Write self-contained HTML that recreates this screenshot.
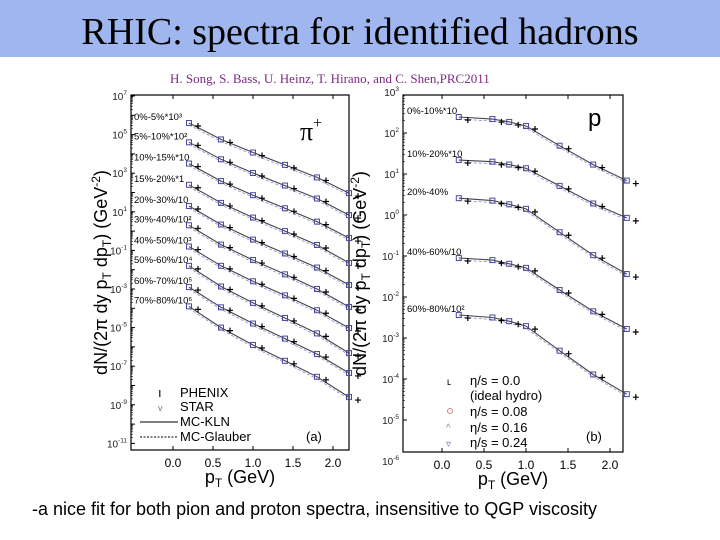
<!DOCTYPE html>
<html><head><meta charset="utf-8"><style>
body{margin:0;background:#fff;}
svg{display:block;}
</style></head><body>
<svg id="s" width="720" height="540" viewBox="0 0 720 540" xmlns="http://www.w3.org/2000/svg">
<rect x="0" y="0" width="720" height="57" fill="#9fb6ef"/>
<text x="360" y="44" text-anchor="middle" font-family="Liberation Serif, serif" font-size="38" fill="#000">RHIC: spectra for identified hadrons</text>
<text x="170" y="83" font-family="Liberation Serif, serif" font-size="13" fill="#7a2a80">H. Song, S. Bass, U. Heinz, T. Hirano, and  C. Shen,PRC2011</text>
<g id="pionPanel"></g>
<g id="protonPanel"></g>
<text x="32" y="515" font-family="Liberation Sans, sans-serif" font-size="18" fill="#000">-a nice fit for both pion and proton spectra, insensitive to QGP viscosity</text>
</svg>
<script>
// ---- pion data (log10 of yield) ----
const pionPt = [0.2, 0.6, 1.0, 1.4, 1.8, 2.2];
const pionLabels = ["0%-5%*10³","5%-10%*10²","10%-15%*10","15%-20%*1","20%-30%/10","30%-40%/10²","40%-50%/10³","50%-60%/10⁴","60%-70%/10⁵","70%-80%/10⁶"];
const pion0 = [5.6, 4.75, 4.07, 3.43, 2.78, 1.97];
const pion1 = [4.6, 3.72, 3.01, 2.36, 1.69, 0.83];
const pion2 = [3.5, 2.59, 1.86, 1.18, 0.49, -0.36];
const pion3 = [2.4, 1.46, 0.70, 0.0, -0.72, -1.65];
const pion4 = [1.3, 0.34, -0.44, -1.16, -1.89, -2.79];
const pion5 = [0.3, -0.70, -1.50, -2.24, -3.0, -3.93];
const pion6 = [-0.8, -1.80, -2.60, -3.33, -4.1, -5.02];
const pion7 = [-1.8, -2.87, -3.72, -4.5, -5.3, -6.32];
const pion8 = [-2.9, -3.95, -4.79, -5.57, -6.37, -7.35];
const pion9 = [-3.9, -5.0, -5.9, -6.72, -7.55, -8.6];
const pionSeries = [pion0,pion1,pion2,pion3,pion4,pion5,pion6,pion7,pion8,pion9];
const pionYTicks = [7,5,3,1,-1,-3,-5,-7,-9,-11];
const xTicks = [0.0,0.5,1.0,1.5,2.0];
// ---- proton data ----
const protonPt = [0.2, 0.6, 0.8, 1.0, 1.4, 1.8, 2.2];
const protonLabels = ["0%-10%*10","10%-20%*10","20%-40%","40%-60%/10","60%-80%/10²"];
const proton0 = [2.39, 2.34, 2.27, 2.17, 1.69, 1.23, 0.84];
const proton1 = [1.34, 1.30, 1.23, 1.14, 0.71, 0.28, -0.07];
const proton2 = [0.41, 0.35, 0.26, 0.15, -0.42, -0.98, -1.44];
const proton3 = [-1.05, -1.10, -1.19, -1.29, -1.83, -2.35, -2.78];
const proton4 = [-2.44, -2.50, -2.59, -2.71, -3.31, -3.89, -4.37];
const protonSeries = [proton0,proton1,proton2,proton3,proton4];
const protonYTicks = [3,2,1,0,-1,-2,-3,-4,-5,-6];

const NS="http://www.w3.org/2000/svg";
function mk(tag, attrs, parent){const e=document.createElementNS(NS,tag);for(const k in attrs)e.setAttribute(k,attrs[k]);parent.appendChild(e);return e;}
function sup(parent,x,y,base,exp,size,anchor){
  const t=mk('text',{x:x,y:y,'font-family':'Liberation Sans, sans-serif','font-size':size,'text-anchor':anchor||'end',fill:'#222'},parent);
  
  
  const a=document.createElementNS(NS,'tspan');a.textContent=base;t.appendChild(a);
  const b=document.createElementNS(NS,'tspan');b.setAttribute('dy','-5');b.setAttribute('font-size',size*0.65);b.textContent=exp;t.appendChild(b);
}
function panel(g, cfg){
  const X=v=>cfg.x0+(v-cfg.xmin)*cfg.xs;
  const Y=v=>cfg.ytop+(cfg.ymax-v)*cfg.ys;
  const f=mk('rect',{x:cfg.L,y:cfg.T,width:cfg.R-cfg.L,height:cfg.B-cfg.T,fill:'none',stroke:'#000','stroke-width':1.2},g);
  
  
  xTicks.forEach(v=>{
    const x=X(v);
    mk('line',{x1:x,x2:x,y1:cfg.B,y2:cfg.B-4,stroke:'#000'},g);
    mk('line',{x1:x,x2:x,y1:cfg.T,y2:cfg.T+4,stroke:'#000'},g);
    const t=mk('text',{x:x,y:cfg.B+17,'text-anchor':'middle','font-family':'Liberation Sans, sans-serif','font-size':12,fill:'#000'},g);
    t.textContent=v.toFixed(1);
    
    
  });
  for(let d=Math.floor(cfg.ymin);d<=cfg.ymax;d++){
    const y=Y(d); if(y<cfg.T-1||y>cfg.B+1)continue;
    mk('line',{x1:cfg.L,x2:cfg.L+4,y1:y,y2:y,stroke:'#000'},g);
    for(let m=2;m<10;m++){const ym=Y(d+Math.log10(m));if(ym>cfg.T&&ym<cfg.B)mk('line',{x1:cfg.L,x2:cfg.L+2,y1:ym,y2:ym,stroke:'#000','stroke-width':0.6},g);}
  }
  cfg.yticks.forEach(d=>{sup(g,cfg.L-4,Y(d)+4,'10',String(d),10);});
  const ax=mk('text',{x:(cfg.L+cfg.R)/2,y:cfg.B+33,'text-anchor':'middle','font-family':'Liberation Sans, sans-serif','font-size':18,fill:'#000'},g);
  ax.innerHTML='p<tspan font-size="12" dy="4">T</tspan><tspan dy="-4"> (GeV)</tspan>';
  
  
  const yl=mk('text',{x:0,y:0,transform:`translate(${cfg.ylx},${(cfg.T+cfg.B)/2}) rotate(-90)`,'text-anchor':'middle','font-family':'Liberation Sans, sans-serif','font-size':18,fill:'#000'},g);
  yl.innerHTML='dN/(2π dy p<tspan font-size="12" dy="4">T</tspan><tspan dy="-4"> dp</tspan><tspan font-size="12" dy="4">T</tspan><tspan dy="-4">) (GeV</tspan><tspan font-size="12" dy="-7">-2</tspan><tspan dy="7">)</tspan>';
  
  
  cfg.series.forEach((s,i)=>{
    const pts=s.map((v,j)=>X(cfg.pt[j]).toFixed(1)+','+Y(v).toFixed(1)).join(' ');
    const l=mk('polyline',{points:pts,fill:'none',stroke:'#444','stroke-width':1.1},g);
    
    
    const l2=mk('polyline',{points:s.map((v,j)=>X(cfg.pt[j]).toFixed(1)+','+(Y(v)+2).toFixed(1)).join(' '),fill:'none',stroke:'#8a8ad0','stroke-width':0.8,'stroke-dasharray':'3,2'},g);
    
    
    s.forEach((v,j)=>{
      const m=mk('rect',{x:X(cfg.pt[j])-2.5,y:Y(v)-2.5,width:5,height:5,fill:'none',stroke:'#4a4aa0','stroke-width':1},g);
      
      
      const c=mk('path',{d:`M${X(cfg.pt[j])+6} ${Y(v)+3}h6M${X(cfg.pt[j])+9} ${Y(v)}v6`,stroke:'#000','stroke-width':1.2},g);
      
      
    });
    const t=mk('text',{x:cfg.labx,y:Y(s[0])-3,'font-family':'Liberation Sans, sans-serif','font-size':9.5,fill:'#000'},g);
    t.textContent=cfg.labels[i];
    
    
  });
}
panel(document.getElementById('pionPanel'),{L:131,R:349,T:95,B:450,x0:173,xmin:0,xs:80,ytop:96,ymax:7,ys:19.3,ymin:-11.3,yticks:pionYTicks,series:pionSeries,pt:pionPt,labels:pionLabels,labx:134,ylx:107});
panel(document.getElementById('protonPanel'),{L:403,R:623,T:95,B:452,x0:442,xmin:0,xs:84,ytop:92,ymax:3,ys:41,ymin:-5.8,yticks:protonYTicks,series:protonSeries,pt:protonPt,labels:protonLabels,labx:407,ylx:366});

const gp=document.getElementById('pionPanel'), gr=document.getElementById('protonPanel');
const st='font-family="Liberation Sans, sans-serif" font-size="13" fill="#000"';
gp.insertAdjacentHTML('beforeend',`
<text x="300" y="140" font-family="Liberation Serif, serif" font-size="26">π<tspan font-size="16" dy="-12">+</tspan></text>
<g>
<text x="158" y="397" ${st}>ı</text><text x="180" y="397" ${st}>PHENIX</text>
<text x="158" y="411" font-size="9" font-family="Liberation Sans, sans-serif" fill="#777">v</text><text x="180" y="411" ${st}>STAR</text>
<line x1="140" x2="178" y1="422" y2="422" stroke="#000"/><text x="180" y="426" ${st}>MC-KLN</text>
<line x1="140" x2="178" y1="437" y2="437" stroke="#000" stroke-dasharray="2,1.5"/><text x="180" y="441" ${st}>MC-Glauber</text>
<text x="306" y="441" ${st}>(a)</text></g>`);
gr.insertAdjacentHTML('beforeend',`
<text x="588" y="126" font-family="Liberation Sans, sans-serif" font-size="24">p</text>
<g>
<text x="447" y="385" ${st}>˪</text><text x="470" y="385" ${st}>η/s = 0.0</text>
<text x="470" y="400" ${st}>(ideal hydro)</text>
<circle cx="450" cy="411" r="2.5" fill="none" stroke="#c88"/><text x="470" y="416" ${st}>η/s = 0.08</text>
<text x="446" y="431" font-size="10" font-family="Liberation Sans, sans-serif" fill="#888">^</text><text x="470" y="432" ${st}>η/s = 0.16</text>
<text x="446" y="447" font-size="10" font-family="Liberation Sans, sans-serif" fill="#66a">▿</text><text x="470" y="447" ${st}>η/s = 0.24</text>
<text x="586" y="441" ${st}>(b)</text></g>`);
</script>
</body></html>
